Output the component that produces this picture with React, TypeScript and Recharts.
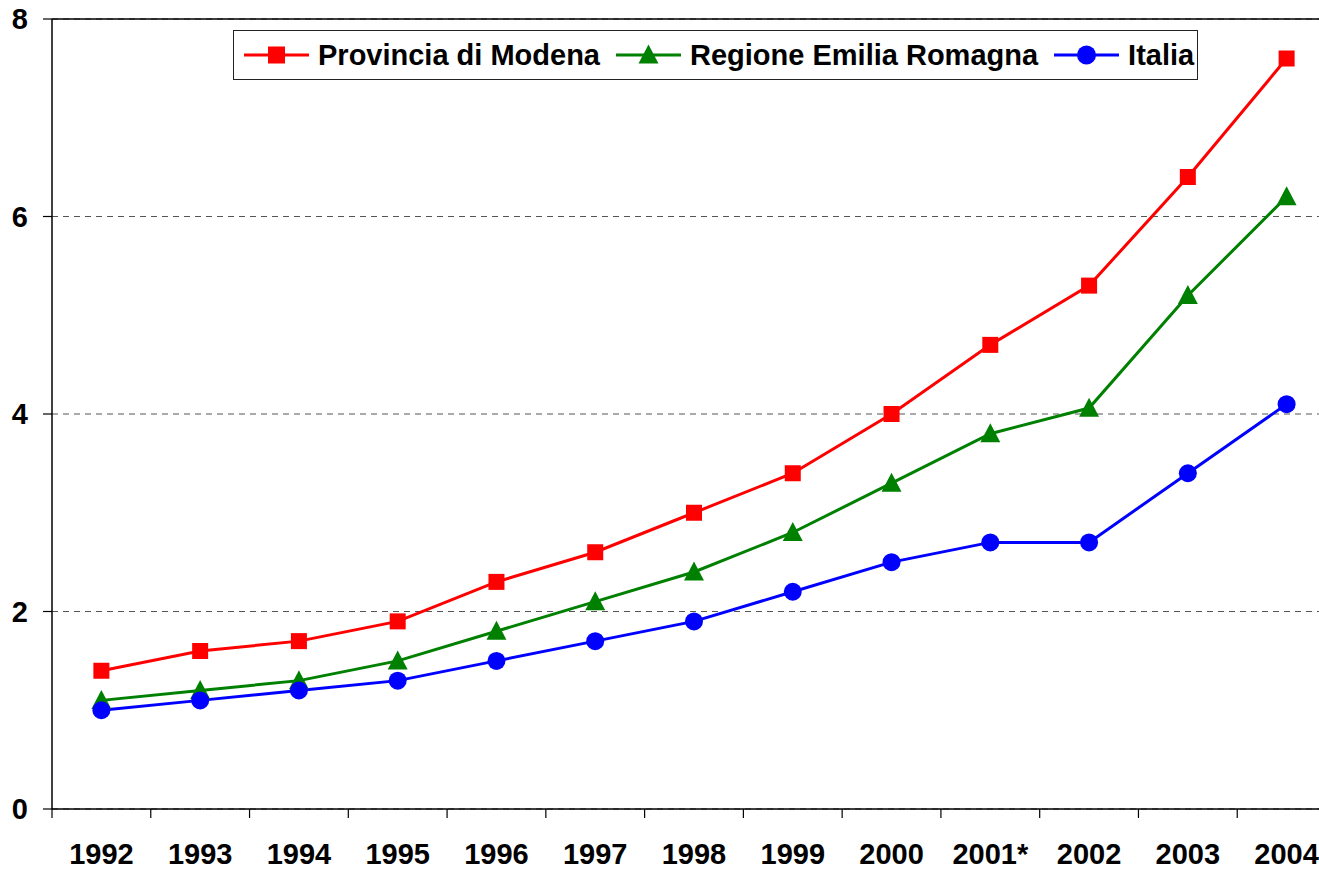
import { LineChart, Line, XAxis, YAxis, CartesianGrid, ReferenceLine } from 'recharts'

const years = ['1992', '1993', '1994', '1995', '1996', '1997', '1998', '1999', '2000', '2001*', '2002', '2003', '2004']
const modena = [1.4, 1.6, 1.7, 1.9, 2.3, 2.6, 3.0, 3.4, 4.0, 4.7, 5.3, 6.4, 7.6]
const emilia = [1.1, 1.2, 1.3, 1.5, 1.8, 2.1, 2.4, 2.8, 3.3, 3.8, 4.06, 5.2, 6.2]
const italia = [1.0, 1.1, 1.2, 1.3, 1.5, 1.7, 1.9, 2.2, 2.5, 2.7, 2.7, 3.4, 4.1]
const yTicks = [0, 2, 4, 6, 8]

const data = years.map((year, i) => ({ year, modena: modena[i], emilia: emilia[i], italia: italia[i] }))

const FONT = '"Liberation Sans", Arial, sans-serif'
const CHART_W = 1336
const PLOT_LEFT = 52
const HALF_BAND = (CHART_W - PLOT_LEFT) / years.length / 2

type Shape = 'square' | 'triangle' | 'circle'

function Marker({ shape, cx, cy, color, size }: { shape: Shape; cx: number; cy: number; color: string; size: number }) {
  if (cx == null || cy == null) return null
  const h = size / 2
  if (shape === 'square') return <rect x={cx - h} y={cy - h} width={size} height={size} fill={color} />
  if (shape === 'triangle') {
    const w = size * 1.05
    return <polygon points={`${cx},${cy - h * 1.1} ${cx - w / 2},${cy + h * 0.9} ${cx + w / 2},${cy + h * 0.9}`} fill={color} />
  }
  return <circle cx={cx} cy={cy} r={h} fill={color} />
}

const series = [
  { key: 'modena', name: 'Provincia di Modena', color: '#FF0000', shape: 'square' as Shape, size: 16 },
  { key: 'emilia', name: 'Regione Emilia Romagna', color: '#008000', shape: 'triangle' as Shape, size: 19 },
  { key: 'italia', name: 'Italia', color: '#0000FF', shape: 'circle' as Shape, size: 18 },
]

function XTick({ x, y, payload }: any) {
  return (
    <g>
      <line x1={x - HALF_BAND} x2={x - HALF_BAND} y1={y} y2={y + 9} stroke="#000" strokeWidth={1.2} />
      <text x={x} y={y + 55} textAnchor="middle" fontSize={29} fontWeight="bold" fontFamily={FONT} fill="#000">
        {payload.value}
      </text>
    </g>
  )
}

function LegendBox() {
  return (
    <div
      style={{
        position: 'absolute',
        left: 233,
        top: 30,
        width: 965,
        height: 50,
        boxSizing: 'border-box',
        border: '1.5px solid #222',
        background: '#fff',
        display: 'flex',
        alignItems: 'center',
        paddingLeft: 10,
        fontFamily: FONT,
        fontWeight: 'bold',
        fontSize: 29,
        color: '#000',
        whiteSpace: 'nowrap',
      }}
    >
      {series.map((s) => (
        <div key={s.key} style={{ display: 'flex', alignItems: 'center', marginRight: 16 }}>
          <svg width={65} height={24} style={{ marginRight: 9 }}>
            <line x1={0} x2={65} y1={12} y2={12} stroke={s.color} strokeWidth={3} />
            <Marker shape={s.shape} cx={32.5} cy={12} color={s.color} size={s.shape === 'square' ? 17 : 19} />
          </svg>
          <span>{s.name}</span>
        </div>
      ))}
    </div>
  )
}

export default function App() {
  return (
    <div style={{ position: 'absolute', left: 0, top: 0, width: 1319, height: 870, overflow: 'hidden', background: '#fff' }}>
      <LineChart width={CHART_W} height={870} data={data} margin={{ top: 19, right: 0, left: 0, bottom: 0 }}>
        <CartesianGrid vertical={false} stroke="#555" strokeDasharray="6 5" />
        <XAxis
          dataKey="year"
          height={61}
          padding={{ left: HALF_BAND, right: HALF_BAND }}
          axisLine={{ stroke: '#000', strokeWidth: 1.5 }}
          tickLine={false}
          tickSize={0}
          tickMargin={0}
          interval={0}
          tick={<XTick />}
        />
        <YAxis
          width={PLOT_LEFT}
          domain={[0, 8]}
          ticks={yTicks}
          axisLine={{ stroke: '#000', strokeWidth: 1.5 }}
          tickLine={{ stroke: '#000', strokeWidth: 1.2 }}
          tickSize={9}
          tickMargin={15}
          tick={{ fontSize: 29, fontWeight: 'bold', fontFamily: FONT, fill: '#000' }}
        />
        <ReferenceLine y={8} stroke="#000" strokeWidth={1.5} />
        {series.map((s) => (
          <Line
            key={s.key}
            type="linear"
            dataKey={s.key}
            name={s.name}
            stroke={s.color}
            strokeWidth={3}
            isAnimationActive={false}
            dot={(p: any) => <Marker key={`${s.key}-${p.index}`} shape={s.shape} cx={p.cx} cy={p.cy} color={s.color} size={s.size} />}
            activeDot={false}
          />
        ))}
      </LineChart>
      <LegendBox />
    </div>
  )
}
